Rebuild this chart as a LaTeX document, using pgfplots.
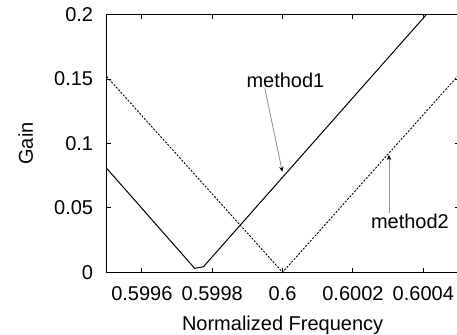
\documentclass[border=0pt]{standalone}
\usepackage{fontspec}
\setmainfont{Liberation Sans}
\usepackage{pgfplots}
\pgfplotsset{compat=1.18}
\usetikzlibrary{arrows.meta}
\definecolor{arrgray}{RGB}{140,140,140}
\begin{document}
\fontsize{20bp}{24bp}\selectfont
\begin{tikzpicture}
\useasboundingbox (0,0) rectangle (457bp,335bp);
\clip (0,0) rectangle (457bp,335bp);
\begin{axis}[
  at={(106.7bp,62.7bp)}, anchor=south west,
  scale only axis, width=351.8bp, height=257.6bp,
  xmin=0.5995, xmax=0.6005, ymin=0, ymax=0.2,
  scaled x ticks=false, scaled y ticks=false,
  /pgf/number format/assume math mode=true,
  xtick={0.5996,0.5998,0.6,0.6002,0.6004},
  xticklabels={0.5996,0.5998,0.6,0.6002,0.6004},
  ytick={0,0.05,0.1,0.15,0.2},
  yticklabels={0,0.05,0.1,0.15,0.2},
  tick align=inside, major tick length=4bp,
  minor tick num=0,
  axis line style={line width=1.1bp, black},
  every tick/.style={black, line width=1bp},
  xticklabel style={anchor=north, inner sep=0pt, yshift=-14.2bp},
  yticklabel style={anchor=east, inner sep=0pt, xshift=-13.4bp},
  xlabel={Normalized Frequency},
  ylabel={Gain},
  xlabel style={at={(axis description cs:0.5,-0.2267)}, anchor=base, inner sep=0pt},
  ylabel style={at={(axis description cs:-0.2095,0.5)}, anchor=base, inner sep=0pt},
]
\addplot[black, line width=1bp] coordinates {
  (0.5995,0.0807) (0.59975,0.0031) (0.599775,0.0043) (0.6005,0.2283)
};
\addplot[black, line width=0.9bp, dash pattern=on 2bp off 1.5bp] coordinates {
  (0.5995,0.152) (0.6,0) (0.6005,0.153)
};
\draw[arrgray, line width=0.8bp, -{Stealth[length=5bp,width=4.5bp,black]}]
  (axis cs:0.5999495,0.1428) -- (axis cs:0.5999991,0.0781);
\draw[arrgray, line width=0.8bp, -{Stealth[length=5bp,width=4.5bp,black]}]
  (axis cs:0.6003024,0.0458) -- (axis cs:0.6003024,0.0911);
\node[anchor=base, inner sep=0pt] at (axis cs:0.600008,0.1436) {method1};
\node[anchor=base, inner sep=0pt] at (axis cs:0.600362,0.0342) {method2};
\end{axis}
\end{tikzpicture}
\end{document}
